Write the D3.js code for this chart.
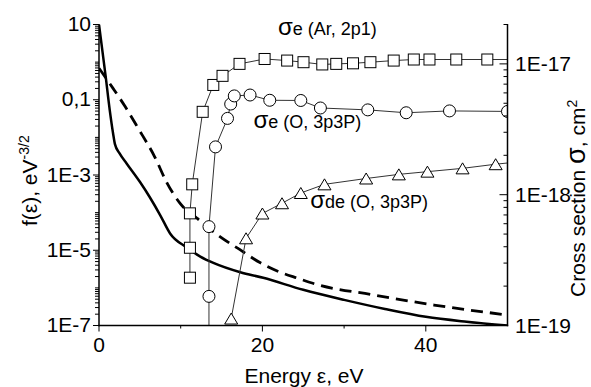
<!DOCTYPE html>
<html>
<head>
<meta charset="UTF-8">
<style>
  body { margin:0; background:#fff; }
  svg text { font-family:"Liberation Sans", Arial, sans-serif; fill:#000; }
</style>
</head>
<body>
<div id="chart"></div>
<script src="https://d3js.org/d3.v7.min.js"></script>
<script>
// EEDF f(e), solid curve
var solidE = [0, 0.82, 1.31, 1.72, 1.95, 2.5, 3.4, 5.0, 6.2, 7.5, 8.7, 10.7, 12.4, 14, 17.3, 20.1, 25, 30, 35, 40, 45, 50];
var solidF = [10, 0.41, 0.054, 0.0129, 0.0066, 0.0038, 0.002, 6.6e-4, 2.6e-4, 8.5e-5, 2.8e-5, 1.2e-5, 6.8e-6, 4.6e-6, 2.6e-6, 1.85e-6, 8.9e-7, 4.8e-7, 2.75e-7, 1.7e-7, 1.26e-7, 1.0e-7];
// EEDF f(e), dashed curve
var dashE = [0, 1.7, 3.2, 4.8, 6.8, 8.3, 9.9, 12, 14.8, 17.3, 19.7, 22, 24.4, 26.5, 33.6, 41, 50];
var dashF = [0.69, 0.204, 0.066, 0.0174, 0.0031, 6.3e-4, 1.78e-4, 7.1e-5, 2.3e-5, 1.02e-5, 4.7e-6, 2.7e-6, 1.78e-6, 1.26e-6, 6.5e-7, 3.5e-7, 1.9e-7];

// cross sections (right axis)
var arE = [11.13, 11.13, 11.13, 11.41, 12.69, 13.99, 15.12, 17.2, 20.27, 23.03, 25.03, 27.33, 29.04, 31.09, 33.22, 36.07, 38.53, 40.45, 43.73, 47.53, 52];
var arSigma = [2.32e-19, 3.93e-19, 7.2e-19, 1.2e-18, 4.3e-18, 6.9e-18, 8.1e-18, 1.0e-17, 1.09e-17, 1.06e-17, 1.03e-17, 9.9e-18, 1.0e-17, 1.01e-17, 1.03e-17, 1.06e-17, 1.08e-17, 1.08e-17, 1.08e-17, 1.08e-17, 1.08e-17];
var oE = [13.46, 13.46, 13.46, 14.26, 15.73, 16.12, 16.56, 18.49, 20.9, 24.7, 27.1, 32.9, 37.6, 42.9, 50];
var oSigma = [5e-20, 1.67e-19, 5.7e-19, 2.32e-18, 3.83e-18, 4.93e-18, 5.69e-18, 5.78e-18, 5.27e-18, 5.25e-18, 4.6e-18, 4.45e-18, 4.23e-18, 4.37e-18, 4.33e-18];
var odeE = [16.18, 18.0, 20.0, 22.4, 24.7, 27.6, 32.7, 36.7, 40.2, 44.5, 48.55, 52];
var odeSigma = [1.13e-19, 4.64e-19, 7.18e-19, 8.6e-19, 1.03e-18, 1.2e-18, 1.33e-18, 1.43e-18, 1.5e-18, 1.59e-18, 1.71e-18, 1.8e-18];

// tick labels
var xTickVals = [0, 20, 40];
var xMinorVals = [10, 30];
var leftTickVals = [10, 0.1, 1e-3, 1e-5, 1e-7];
var leftTickLabels = ["10", "0,1", "1E-3", "1E-5", "1E-7"];
var rightTickVals = [1e-17, 1e-18, 1e-19];
var rightTickLabels = ["1E-17", "1E-18", "1E-19"];

var W = 591, H = 387;
var svg = d3.select("#chart").append("svg").attr("width", W).attr("height", H);

var x = d3.scaleLinear().domain([0, 50]).range([99, 507.5]);
var yL = d3.scaleLog().domain([1e-7, 10]).range([325.5, 24.5]);
var yR = d3.scaleLog().domain([1e-19, 2e-17]).range([325.5, 24.5]);

svg.append("clipPath").attr("id", "plot")
  .append("rect").attr("x", 99).attr("y", 24.5).attr("width", 408.5).attr("height", 301);

var g = svg.append("g").attr("clip-path", "url(#plot)");

function zip(a, b) { return a.map(function(v, i) { return [v, b[i]]; }); }

var lineL = d3.line().x(function(d) { return x(d[0]); }).y(function(d) { return yL(d[1]); })
  .curve(d3.curveMonotoneX);
var lineR = d3.line().x(function(d) { return x(d[0]); }).y(function(d) { return yR(d[1]); });

g.append("path").datum(zip(solidE, solidF))
  .attr("fill", "none").attr("stroke", "#000").attr("stroke-width", 2.5)
  .attr("d", lineL);
g.append("path").datum(zip(dashE, dashF))
  .attr("fill", "none").attr("stroke", "#000").attr("stroke-width", 2.8)
  .attr("stroke-dasharray", "12,7")
  .attr("d", lineL);

var ar = zip(arE, arSigma), ox = zip(oE, oSigma), ode = zip(odeE, odeSigma);
[ar, ox, ode].forEach(function(s) {
  g.append("path").datum(s)
    .attr("fill", "none").attr("stroke", "#333").attr("stroke-width", 1)
    .attr("d", lineR);
});

g.selectAll(".sq").data(ar).enter().append("rect")
  .attr("x", function(d) { return x(d[0]) - 5.5; })
  .attr("y", function(d) { return yR(d[1]) - 5.5; })
  .attr("width", 11).attr("height", 11)
  .attr("fill", "#fff").attr("stroke", "#000").attr("stroke-width", 1);
g.selectAll(".ci").data(ox).enter().append("circle")
  .attr("cx", function(d) { return x(d[0]); })
  .attr("cy", function(d) { return yR(d[1]); })
  .attr("r", 6)
  .attr("fill", "#fff").attr("stroke", "#000").attr("stroke-width", 1);
g.selectAll(".tr").data(ode).enter().append("path")
  .attr("transform", function(d) { return "translate(" + x(d[0]) + "," + yR(d[1]) + ")"; })
  .attr("d", "M-6.5,5.5L0,-5.5L6.5,5.5Z")
  .attr("fill", "#fff").attr("stroke", "#000").attr("stroke-width", 1);

// axes
var ax = svg.append("g").attr("stroke", "#000").attr("stroke-width", 1.5);
ax.append("line").attr("x1", 99).attr("x2", 99).attr("y1", 24).attr("y2", 326.2);
ax.append("line").attr("x1", 507.5).attr("x2", 507.5).attr("y1", 24).attr("y2", 326.2);
ax.append("line").attr("x1", 98.3).attr("x2", 508.2).attr("y1", 325.5).attr("y2", 325.5);

var tk = svg.append("g").attr("stroke", "#000").attr("stroke-width", 1);
// left log ticks, outward
for (var p = -7; p <= 1; p++) {
  var major = (p % 2 !== 0);
  tk.append("line").attr("x1", 99).attr("x2", major ? 93 : 95)
    .attr("y1", yL(Math.pow(10, p))).attr("y2", yL(Math.pow(10, p)));
  if (p < 1) for (var m = 2; m <= 9; m++) {
    var v = m * Math.pow(10, p);
    tk.append("line").attr("x1", 99).attr("x2", 95).attr("y1", yL(v)).attr("y2", yL(v));
  }
}
// right log ticks, inward
for (var q = -19; q <= -17; q++) {
  var b = Math.pow(10, q);
  tk.append("line").attr("x1", 507.5).attr("x2", 499.5).attr("y1", yR(b)).attr("y2", yR(b));
  for (var n = 2; n <= 9; n++) {
    var w = n * b;
    if (w > 2.01e-17) break;
    tk.append("line").attr("x1", 507.5).attr("x2", 503.5).attr("y1", yR(w)).attr("y2", yR(w));
  }
}
// bottom ticks, outward
xTickVals.forEach(function(v) {
  tk.append("line").attr("x1", x(v)).attr("x2", x(v)).attr("y1", 325.5).attr("y2", 331.5);
});
xMinorVals.forEach(function(v) {
  tk.append("line").attr("x1", x(v)).attr("x2", x(v)).attr("y1", 325.5).attr("y2", 328.5);
});

var fs = 21;
svg.selectAll(".yl").data(leftTickVals).enter().append("text")
  .attr("x", 91).attr("y", function(d) { return yL(d) + 6.5; })
  .attr("text-anchor", "end").attr("font-size", fs)
  .text(function(d, i) { return leftTickLabels[i]; });
svg.selectAll(".yr").data(rightTickVals).enter().append("text")
  .attr("x", 515).attr("y", function(d) { return yR(d) + 7; })
  .attr("font-size", fs)
  .text(function(d, i) { return rightTickLabels[i]; });
svg.selectAll(".xl").data(xTickVals).enter().append("text")
  .attr("x", function(d) { return x(d); }).attr("y", 352)
  .attr("text-anchor", "middle").attr("font-size", fs)
  .text(function(d) { return d; });

// axis titles
svg.append("text").attr("x", 304).attr("y", 383).attr("text-anchor", "middle")
  .attr("font-size", fs).text("Energy \u03b5, eV");

var lt = svg.append("text").attr("transform", "translate(37,226) rotate(-90)").attr("font-size", fs);
lt.append("tspan").text("f(\u03b5), eV");
lt.append("tspan").attr("font-size", 14).attr("dy", -8).text("-3/2");

var rt = svg.append("text").attr("transform", "translate(585,297) rotate(-90)").attr("font-size", fs);
rt.append("tspan").text("Cross section ");
rt.append("tspan").attr("font-size", 27).text("\u03c3");
rt.append("tspan").text(", cm");
rt.append("tspan").attr("font-size", 14).attr("dy", -8).text("2");

// series labels, anchored in data units
var labels = [
  { e: 21.9, s: 1.66e-17, sub: "e (Ar, 2p1)" },
  { e: 18.9, s: 3.22e-18, sub: "e (O, 3p3P)" },
  { e: 25.85, s: 7.87e-19, sub: "de (O, 3p3P)" }
];
labels.forEach(function(l) {
  var t = svg.append("text").attr("x", x(l.e)).attr("y", yR(l.s)).attr("font-size", 18);
  t.append("tspan").attr("font-size", 24).text("\u03c3");
  t.append("tspan").text(l.sub);
});
</script>
</body>
</html>
